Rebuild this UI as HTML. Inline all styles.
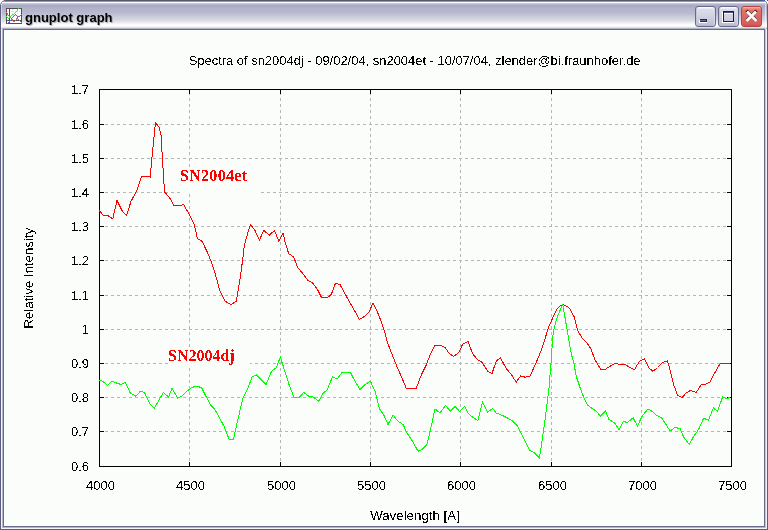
<!DOCTYPE html>
<html><head><meta charset="utf-8"><style>
html,body{margin:0;padding:0;}
body{width:768px;height:530px;position:relative;overflow:hidden;background:#ffffff;}
#win{position:absolute;left:0;top:0;width:768px;height:530px;background:#5c5c7c;border-radius:6px 6px 0 0;overflow:hidden;}
#tb{position:absolute;left:1px;top:0;width:766px;height:30px;background:linear-gradient(to bottom,rgb(88, 88, 112) 0px, rgb(88, 88, 112) 1px,rgb(150, 150, 178) 1px, rgb(150, 150, 178) 2px,rgb(250, 250, 255) 2px, rgb(250, 250, 255) 3px,rgb(202, 202, 222) 3px, rgb(202, 202, 222) 4px,rgb(180, 182, 206) 4px, rgb(180, 182, 206) 5px,rgb(168, 172, 200) 5px, rgb(168, 172, 200) 6px,rgb(170, 170, 198) 6px, rgb(170, 170, 198) 7px,rgb(175, 175, 200) 7px, rgb(175, 175, 200) 8px,rgb(178, 178, 205) 8px, rgb(178, 178, 205) 9px,rgb(180, 180, 205) 9px, rgb(180, 180, 205) 10px,rgb(180, 182, 205) 10px, rgb(180, 182, 205) 11px,rgb(183, 187, 205) 12px, rgb(183, 187, 205) 13px,rgb(190, 192, 210) 14px, rgb(190, 192, 210) 15px,rgb(195, 198, 212) 15px, rgb(195, 198, 212) 16px,rgb(205, 208, 220) 17px, rgb(205, 208, 220) 18px,rgb(212, 214, 225) 19px, rgb(212, 214, 225) 20px,rgb(218, 220, 226) 20px, rgb(218, 220, 226) 21px,rgb(228, 228, 232) 21px, rgb(228, 228, 232) 22px,rgb(236, 234, 238) 22px, rgb(236, 234, 238) 23px,rgb(242, 242, 248) 23px, rgb(242, 242, 248) 24px,rgb(250, 252, 250) 24px, rgb(250, 252, 250) 25px,rgb(255, 255, 255) 25px, rgb(255, 255, 255) 26px,rgb(246, 246, 246) 26px, rgb(246, 246, 246) 27px,rgb(226, 226, 230) 27px, rgb(226, 226, 230) 28px,rgb(178, 178, 198) 28px, rgb(178, 178, 198) 29px,rgb(105, 105, 140) 29px, rgb(105, 105, 140) 30px);border-radius:5px 5px 0 0;}
#tbl{position:absolute;left:1px;top:4px;width:1px;height:25px;background:rgba(255,255,255,0.45);}
#tbr{position:absolute;left:765px;top:4px;width:1px;height:25px;background:rgba(255,255,255,0.6);}
#fw{position:absolute;left:1px;top:29px;width:764px;height:499px;border:1px solid #f4f4fa;border-top:0;}
#fv{position:absolute;left:2px;top:29px;width:762px;height:498px;border:1px solid #b4b4cc;border-right-color:#c4c4dc;border-top:0;}
#fd{position:absolute;left:3px;top:29px;width:760px;height:496px;border:1px solid #6a6a8a;}
#client{position:absolute;left:4px;top:30px;width:760px;height:496px;background:#fbfdfb;}
#title{position:absolute;left:25px;top:8.5px;font:bold 13.5px "Liberation Sans",sans-serif;transform:scaleX(0.965);transform-origin:0 0;color:#000;text-shadow:1px 1px 0 rgba(120,120,140,0.5);white-space:pre;line-height:18px;}
.btn{position:absolute;top:6px;width:19px;height:19px;border:1px solid #666a8c;border-radius:3px;
 background:linear-gradient(to bottom,#fafafc 0,#fafafc 1px,#ececf4 1px,#ececf4 2px,#dedeea 2px,#d2d2e2 9px,#c8c8dc 14px,#bebed6 18px,#b0b0cc 19px);
 box-shadow:inset 1px 0 0 #c4c4da,inset -1px 0 0 #d8d8e8;}
#bmin{left:695px;} #bmax{left:718px;}
#bcls{position:absolute;left:741px;top:6px;width:19px;height:19px;border:1px solid #b84444;border-radius:3px;
 background:linear-gradient(to bottom,#f0b890 0,#f0b890 1px,#ea8e7c 1px,#ea8e7c 2px,#e27268 3px,#dc6662 10px,#d65e5c 17px,#c85050 19px);}
svg text.t{font:13px "Liberation Sans",sans-serif;fill:#000;filter:url(#bin);}
svg text.sn{font:bold 16px "Liberation Serif",serif;fill:#ff0000;filter:url(#bin);}
svg .g{stroke:#b6b6b6;stroke-width:1;stroke-dasharray:3 3;}
</style></head><body>
<div id="win">
<div id="tb"></div><div id="tbl"></div><div id="tbr"></div>
<div id="fw"></div><div id="fv"></div><div id="fd"></div>
<div id="client"></div>
<div id="title">gnuplot graph</div>
<div class="btn" id="bmin"></div>
<div class="btn" id="bmax"></div>
<div id="bcls"></div>
</div>
<svg width="768" height="530" viewBox="0 0 768 530" style="position:absolute;left:0;top:0" shape-rendering="crispEdges">
<rect x="764" y="0" width="1" height="1" fill="#3050e8"/><rect x="767" y="0" width="1" height="1" fill="#3050e8"/>
<defs><filter id="bin" x="-5%" y="-20%" width="110%" height="140%"><feComponentTransfer><feFuncA type="discrete" tableValues="0 1"/></feComponentTransfer></filter></defs>
<g id="icon">
<rect x="6" y="8" width="16" height="16" fill="#ffffff"/>
<path d="M12.5 9v11M17.5 9v11M7 11.5h14M7 15.5h14" stroke="#dcdcdc" stroke-dasharray="1 1"/>
<path d="M6.5 8v16M9.5 8v16M21.5 8v16M6 8.5h16M6 20.5h16M6 23.5h16" stroke="#505050"/>
<path fill="#ee5c5c" d="M6 12h1v1h-1zM7 13h1v1h-1zM7 14h1v1h-1zM8 15h1v1h-1zM9 16h1v1h-1zM10 17h1v1h-1zM11 18h1v1h-1zM12 19h1v1h-1zM12 20h1v1h-1zM13 21h1v1h-1zM14 21h1v1h-1zM15 20h1v1h-1zM16 19h1v1h-1zM16 18h1v1h-1zM17 18h1v1h-1zM18 19h1v1h-1zM19 20h1v1h-1zM20 21h1v1h-1zM21 22h1v1h-1z"/>
<path fill="#50e050" d="M6 16h1v1h-1zM7 17h1v1h-1zM8 18h1v1h-1zM9 17h1v1h-1zM10 16h1v1h-1zM11 15h1v1h-1zM12 14h1v1h-1zM13 14h1v1h-1zM14 13h1v1h-1zM15 12h1v1h-1zM16 11h1v1h-1zM17 10h1v1h-1zM17 9h1v1h-1zM18 8h1v1h-1z"/>
<path fill="#6a6aee" d="M7 23h1v1h-1zM8 22h1v1h-1zM9 21h1v1h-1zM10 20h1v1h-1zM11 19h1v1h-1zM11 18h1v1h-1zM12 17h1v1h-1zM13 16h1v1h-1zM14 15h1v1h-1zM15 14h1v1h-1zM16 15h1v1h-1zM17 16h1v1h-1zM17 17h1v1h-1zM18 16h1v1h-1zM19 16h1v1h-1zM20 15h1v1h-1zM21 14h1v1h-1z"/>
</g>
<g id="btnglyphs">
<rect x="700" y="19" width="7" height="3" fill="#6a6a94"/><path d="M700 19.5h7M706.5 19v3M700 21.5h7" stroke="#262640"/>
<path d="M699.5 20v3M699 22.5h8" stroke="#ffffff"/>
<rect x="723.5" y="11.5" width="10" height="10" fill="none" stroke="#1c1c30"/>
<path d="M724 12.5h9" stroke="#50507a"/><path d="M724 13.5h9" stroke="#f4f4fa"/>
<path d="M722.5 12v11M722 22.5h12" stroke="#ffffff"/>
<path d="M746.5 10.5L756.5 20.5M756.5 10.5L746.5 20.5" stroke="#401010" stroke-width="3" shape-rendering="auto"/>
<path d="M747 11.5L756.5 21M756 11.5L746.5 21" stroke="#ffffff" stroke-width="2.6" shape-rendering="auto"/>
</g>
<line x1="99" y1="124.5" x2="731" y2="124.5" class="g"/>
<line x1="99" y1="158.5" x2="731" y2="158.5" class="g"/>
<line x1="99" y1="192.5" x2="731" y2="192.5" class="g"/>
<line x1="99" y1="226.5" x2="731" y2="226.5" class="g"/>
<line x1="99" y1="260.5" x2="731" y2="260.5" class="g"/>
<line x1="99" y1="295.5" x2="731" y2="295.5" class="g"/>
<line x1="99" y1="329.5" x2="731" y2="329.5" class="g"/>
<line x1="99" y1="363.5" x2="731" y2="363.5" class="g"/>
<line x1="99" y1="397.5" x2="731" y2="397.5" class="g"/>
<line x1="99" y1="431.5" x2="731" y2="431.5" class="g"/>
<line x1="189.5" y1="467" x2="189.5" y2="89" class="g"/>
<line x1="280.5" y1="467" x2="280.5" y2="89" class="g"/>
<line x1="370.5" y1="467" x2="370.5" y2="89" class="g"/>
<line x1="460.5" y1="467" x2="460.5" y2="89" class="g"/>
<line x1="551.5" y1="467" x2="551.5" y2="89" class="g"/>
<line x1="641.5" y1="467" x2="641.5" y2="89" class="g"/>
<rect x="180" y="167" width="80" height="27" fill="#fbfdfb"/>
<rect x="168" y="347" width="82" height="21" fill="#fbfdfb"/>
<rect x="99.5" y="89.5" width="632" height="377" fill="none" stroke="#000" stroke-width="1"/>
<path d="M99 89.5h5M732 89.5h-5M99 124.5h5M732 124.5h-5M99 158.5h5M732 158.5h-5M99 192.5h5M732 192.5h-5M99 226.5h5M732 226.5h-5M99 260.5h5M732 260.5h-5M99 295.5h5M732 295.5h-5M99 329.5h5M732 329.5h-5M99 363.5h5M732 363.5h-5M99 397.5h5M732 397.5h-5M99 431.5h5M732 431.5h-5M99 466.5h5M732 466.5h-5M99.5 467v-5M99.5 89v5M189.5 467v-5M189.5 89v5M280.5 467v-5M280.5 89v5M370.5 467v-5M370.5 89v5M460.5 467v-5M460.5 89v5M551.5 467v-5M551.5 89v5M641.5 467v-5M641.5 89v5M731.5 467v-5M731.5 89v5" stroke="#000" fill="none"/>
<polyline points="99.00,210.00 102.75,215.00 107.75,215.50 112.75,218.75 117.00,200.50 122.75,212.00 126.70,215.30 131.00,201.25 136.50,191.25 141.50,177.00 145.25,176.25 150.25,177.00 152.00,157.50 155.50,122.50 159.00,127.00 161.00,135.00 164.50,192.00 169.50,197.50 174.00,205.75 179.00,205.75 183.50,204.50 189.00,213.75 194.00,223.75 197.50,238.75 202.00,241.25 207.50,252.50 212.50,265.00 216.25,277.50 220.00,291.25 225.00,301.25 231.25,304.50 236.25,301.25 240.00,279.00 242.50,261.00 244.20,246.40 246.00,238.80 250.50,224.50 255.00,230.50 259.50,240.00 263.75,230.50 269.50,235.00 274.50,230.50 278.75,241.25 283.00,233.00 285.50,243.75 288.75,253.75 293.75,257.00 297.50,267.50 302.50,273.00 308.00,280.50 312.50,283.00 317.50,289.50 321.25,297.00 327.50,297.50 331.25,294.50 335.50,283.25 340.00,284.50 345.00,293.75 351.25,305.00 359.50,319.50 363.00,317.50 368.75,312.50 373.00,303.00 378.75,315.00 383.75,328.75 387.50,342.50 391.25,352.50 396.25,365.00 401.25,376.25 406.25,388.25 416.25,388.25 421.25,375.00 426.25,365.00 430.50,353.75 435.00,345.50 441.25,345.50 445.00,347.50 449.50,353.75 453.75,356.25 458.75,352.50 462.50,344.50 468.00,341.25 472.50,353.50 477.50,359.75 482.00,362.25 487.50,371.00 492.00,373.50 496.25,361.00 500.50,358.00 506.25,368.50 512.00,375.50 516.25,382.25 520.50,376.00 525.50,377.25 530.00,376.00 536.25,362.50 542.00,348.30 545.00,339.00 548.00,328.70 553.30,316.60 557.00,309.00 559.40,306.30 562.80,304.50 567.70,306.80 570.00,309.00 572.00,312.80 574.50,317.50 577.50,330.00 582.50,338.75 587.50,343.75 591.25,349.50 595.00,360.00 601.25,370.00 605.00,369.50 610.00,366.25 615.00,363.25 620.00,364.50 625.00,364.50 630.00,367.50 634.50,369.50 639.50,361.25 644.50,358.75 648.75,368.00 653.00,371.25 657.50,367.50 662.50,362.50 667.50,360.75 670.00,370.00 673.75,385.00 677.50,395.00 682.00,397.50 686.25,393.00 690.50,390.50 696.25,392.50 701.25,384.50 705.00,384.50 710.00,382.00 715.00,372.50 720.00,363.75 730.00,363.75" fill="none" stroke="#ff0000" stroke-width="1"/>
<polyline points="99.00,380.00 102.75,381.25 107.75,385.50 112.00,381.25 116.50,383.00 121.00,384.50 125.25,382.50 130.25,393.00 136.00,396.25 140.25,391.25 144.50,392.50 150.25,404.50 154.50,408.00 159.00,400.00 163.50,392.50 168.50,397.00 172.00,388.25 177.75,398.25 182.75,395.50 187.00,391.25 191.50,387.50 196.50,386.25 201.50,387.50 205.25,395.00 210.25,404.50 215.25,410.00 219.00,417.00 224.00,426.25 229.00,439.00 233.50,439.00 237.75,420.00 242.75,398.75 247.75,388.75 252.00,377.00 256.50,375.00 261.50,380.00 266.00,384.50 271.50,371.25 276.50,367.50 280.25,357.00 285.25,372.50 288.75,383.75 293.75,397.00 298.75,398.00 303.75,392.50 308.75,396.25 313.00,397.00 318.75,401.25 322.50,393.75 327.00,390.00 332.50,377.00 337.50,378.75 342.00,372.50 350.50,372.50 355.00,381.25 360.00,389.50 365.00,384.50 370.50,381.25 375.00,391.25 379.50,408.75 383.75,415.00 388.00,424.50 393.00,415.00 398.00,421.25 403.00,424.50 407.50,433.75 412.50,441.25 418.00,451.25 422.00,449.50 427.00,444.50 431.25,426.25 435.00,408.75 440.00,413.00 445.50,405.50 450.50,411.25 455.00,406.25 459.50,411.25 464.50,406.25 468.75,414.00 473.75,418.00 478.00,420.50 482.50,402.25 487.50,412.25 492.50,408.50 496.25,413.00 502.50,415.50 507.50,418.00 512.50,421.00 517.50,426.00 525.00,441.00 530.00,450.50 534.50,453.00 539.50,458.00 544.30,425.30 548.90,389.00 551.00,363.00 552.20,345.00 553.30,332.00 555.60,322.60 558.60,313.60 562.80,304.50 564.60,315.00 568.40,337.70 571.40,354.30 573.75,362.50 576.25,376.25 580.00,387.50 583.75,397.50 587.50,405.00 592.50,408.75 596.25,411.25 600.50,416.25 605.50,411.00 609.10,419.60 614.60,422.90 619.10,429.80 623.30,421.40 627.30,422.50 633.20,417.80 637.40,426.10 641.90,416.50 647.80,409.20 651.00,410.50 656.50,415.20 662.00,418.30 670.20,431.10 675.10,427.40 680.20,428.70 683.80,437.40 689.30,444.40 693.90,436.00 698.40,429.80 703.50,418.30 708.50,420.10 713.40,407.90 717.60,411.60 722.50,397.00 726.70,398.80 730.30,397.30" fill="none" stroke="#00ff00" stroke-width="1"/>
<text x="89" y="94" text-anchor="end" class="t">1.7</text>
<text x="89" y="129" text-anchor="end" class="t">1.6</text>
<text x="89" y="163" text-anchor="end" class="t">1.5</text>
<text x="89" y="197" text-anchor="end" class="t">1.4</text>
<text x="89" y="231" text-anchor="end" class="t">1.3</text>
<text x="89" y="265" text-anchor="end" class="t">1.2</text>
<text x="89" y="300" text-anchor="end" class="t">1.1</text>
<text x="89" y="334" text-anchor="end" class="t">1</text>
<text x="89" y="368" text-anchor="end" class="t">0.9</text>
<text x="89" y="402" text-anchor="end" class="t">0.8</text>
<text x="89" y="436" text-anchor="end" class="t">0.7</text>
<text x="89" y="471" text-anchor="end" class="t">0.6</text>
<text x="100.5" y="490" text-anchor="middle" class="t">4000</text>
<text x="190.5" y="490" text-anchor="middle" class="t">4500</text>
<text x="281.5" y="490" text-anchor="middle" class="t">5000</text>
<text x="371.5" y="490" text-anchor="middle" class="t">5500</text>
<text x="461.5" y="490" text-anchor="middle" class="t">6000</text>
<text x="552.5" y="490" text-anchor="middle" class="t">6500</text>
<text x="642.5" y="490" text-anchor="middle" class="t">7000</text>
<text x="732.5" y="490" text-anchor="middle" class="t">7500</text>
<text x="414.6" y="65" text-anchor="middle" class="t" style="font-size:12.94px">Spectra of sn2004dj - 09/02/04, sn2004et - 10/07/04, zlender@bi.fraunhofer.de</text>
<text x="415" y="520" text-anchor="middle" class="t" style="font-size:13.3px">Wavelength [A]</text>
<text transform="translate(33,278.3) rotate(-90)" text-anchor="middle" class="t" style="font-size:13.25px">Relative Intensity</text>
<text x="180" y="181" class="sn" letter-spacing="0.3">SN2004et</text>
<text x="168" y="361" class="sn">SN2004dj</text>
</svg>
</body></html>
